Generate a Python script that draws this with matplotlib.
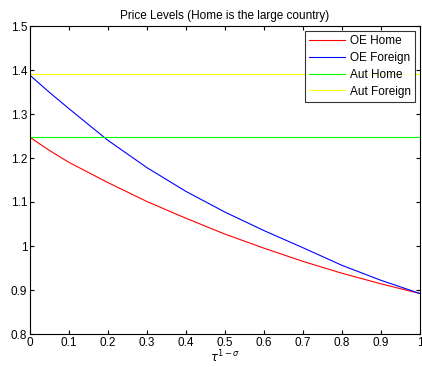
import numpy as np
import matplotlib
matplotlib.use('Agg')
import matplotlib.pyplot as plt

# valores
tau = [0.0, 0.05, 0.1, 0.2, 0.3, 0.4, 0.5, 0.6, 0.7, 0.8, 0.9, 1.0]
oe_home = [1.247, 1.217, 1.190, 1.144, 1.101, 1.063, 1.027, 0.995, 0.965, 0.938, 0.914, 0.892]
oe_foreign = [1.388, 1.349, 1.312, 1.240, 1.178, 1.124, 1.077, 1.035, 0.996, 0.956, 0.922, 0.892]
aut_home = 1.248
aut_foreign = 1.390

plt.rcParams['font.family'] = ['Liberation Sans', 'DejaVu Sans']

fig = plt.figure(figsize=(4.22, 3.67), dpi=100)
ax = fig.add_axes([30 / 422, 1 - 334 / 367, 390 / 422, 308 / 367])

ax.plot(tau, oe_home, color=(1, 0, 0), linewidth=0.8, label='OE Home')
ax.plot(tau, oe_foreign, color=(0, 0, 1), linewidth=0.8, label='OE Foreign')
ax.plot([0, 1], [aut_home, aut_home], color=(0, 1, 0), linewidth=0.8, label='Aut Home')
ax.plot([0, 1], [aut_foreign, aut_foreign], color=(1, 1, 0), linewidth=0.8, label='Aut Foreign')

ax.set_xlim(0, 1)
ax.set_ylim(0.8, 1.5)
ax.set_xticks(np.arange(0, 1.01, 0.1))
ax.set_xticklabels(['0', '0.1', '0.2', '0.3', '0.4', '0.5', '0.6', '0.7', '0.8', '0.9', '1'])
ax.set_yticks(np.arange(0.8, 1.51, 0.1))
ax.set_yticklabels(['0.8', '0.9', '1', '1.1', '1.2', '1.3', '1.4', '1.5'])
ax.tick_params(direction='in', top=True, right=True, labelsize=8.5, length=3, pad=2)
for s in ax.spines.values():
    s.set_linewidth(0.8)

ax.set_title('Price Levels (Home is the large country)', fontsize=8.5, pad=5)
ax.set_xlabel(r'$\tau^{1-\sigma}$', fontsize=8.5, labelpad=0)

leg = ax.legend(loc='upper right', fontsize=8.5, frameon=True, fancybox=False,
                edgecolor='black', borderaxespad=0.45, handlelength=3.0,
                labelspacing=0.4, borderpad=0.35, handletextpad=0.4)
leg.get_frame().set_linewidth(0.8)

fig.savefig('out.png', dpi=100)
